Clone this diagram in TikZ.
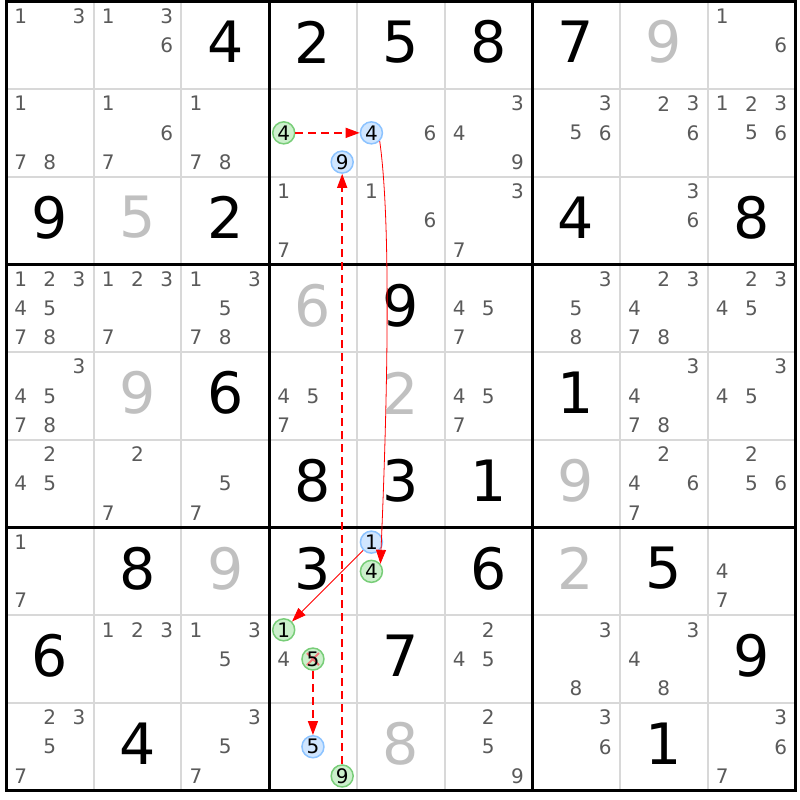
\documentclass[tikz,border=0pt]{standalone}
\usepackage{fontspec}
\setmainfont{DejaVu Sans}
\usetikzlibrary{arrows.meta}
\definecolor{candgray}{RGB}{90,90,90}
\definecolor{solvedgray}{RGB}{192,192,192}
\definecolor{cellline}{RGB}{216,216,216}
\definecolor{onfill}{RGB}{204,240,204}
\definecolor{ondraw}{RGB}{120,205,120}
\definecolor{offfill}{RGB}{208,230,255}
\definecolor{offdraw}{RGB}{140,195,255}
\definecolor{crossred}{RGB}{240,120,120}
\tikzset{
  given/.style={inner sep=0pt, yshift=3pt, font=\fontsize{57}{57}\selectfont},
  solved/.style={given, text=solvedgray},
  cand/.style={inner sep=0pt, text=candgray, font=\fontsize{20}{20}\selectfont},
  oncand/.style={circle, inner sep=0pt, minimum size=22pt, line width=1.5pt,
    draw=ondraw, fill=onfill, font=\fontsize{20}{20}\selectfont},
  offcand/.style={oncand, draw=offdraw, fill=offfill},
  elim/.style={oncand, path picture={
    \draw[crossred, line width=2pt]
      ([shift={(-6pt,-6pt)}]path picture bounding box.center) -- ([shift={(6pt,6pt)}]path picture bounding box.center)
      ([shift={(-6pt,6pt)}]path picture bounding box.center) -- ([shift={(6pt,-6pt)}]path picture bounding box.center);}},
  weaklink/.style={red, line width=1.5pt, dash pattern=on 8pt off 5pt,
    -{Triangle[length=14pt,width=10pt]}},
  stronglink/.style={red, line width=0.8pt, -{Triangle[length=14pt,width=10pt]}}
}
\newcommand\cands[3]{%
  \foreach \n in {#3}{%
    \pgfmathsetmacro\cx{#1+(mod(\n-1,3)+0.5)/3}%
    \pgfmathsetmacro\cy{#2+(floor((\n-1)/3)+0.5)/3}%
    \node[cand] (c#2#1\n) at (\cx,\cy) {\n};
  }%
}
\begin{document}
\begin{tikzpicture}[x=87.7pt, y=-87.7pt]
  \useasboundingbox ([shift={(-6pt,1.3pt)}]0,0) rectangle ++(800pt,-800pt);
  \foreach \i in {1,2,4,5,7,8} {
    \draw[cellline, line width=2pt] (\i,0) -- (\i,9);
    \draw[cellline, line width=2pt] (0,\i) -- (9,\i);
  }
  \foreach \i in {3,6} {
    \draw[line width=3pt] (\i,0) -- (\i,9);
    \draw[line width=3pt] (0,\i) -- (9,\i);
  }
  \draw[line width=3pt] (0,0) rectangle (9,9);

  \foreach \c/\r/\d in {2/0/4, 3/0/2, 4/0/5, 5/0/8, 6/0/7,
      0/2/9, 2/2/2, 6/2/4, 8/2/8, 4/3/9, 2/4/6, 6/4/1,
      3/5/8, 4/5/3, 5/5/1, 1/6/8, 3/6/3, 5/6/6, 7/6/5,
      0/7/6, 4/7/7, 8/7/9, 1/8/4, 7/8/1}
    \node[given] (g\r\c) at (\c+0.5,\r+0.5) {\d};
  \foreach \c/\r/\d in {7/0/9, 1/2/5, 3/3/6, 1/4/9, 4/4/2,
      6/5/9, 2/6/9, 6/6/2, 4/8/8}
    \node[solved] (g\r\c) at (\c+0.5,\r+0.5) {\d};

  \cands{0}{0}{1,3}
  \cands{1}{0}{1,3,6}
  \cands{8}{0}{1,6}
  \cands{0}{1}{1,7,8}
  \cands{1}{1}{1,6,7}
  \cands{2}{1}{1,7,8}
  \cands{4}{1}{6}
  \cands{5}{1}{3,4,9}
  \cands{6}{1}{3,5,6}
  \cands{7}{1}{2,3,6}
  \cands{8}{1}{1,2,3,5,6}
  \cands{3}{2}{1,7}
  \cands{4}{2}{1,6}
  \cands{5}{2}{3,7}
  \cands{7}{2}{3,6}
  \cands{0}{3}{1,2,3,4,5,7,8}
  \cands{1}{3}{1,2,3,7}
  \cands{2}{3}{1,3,5,7,8}
  \cands{5}{3}{4,5,7}
  \cands{6}{3}{3,5,8}
  \cands{7}{3}{2,3,4,7,8}
  \cands{8}{3}{2,3,4,5}
  \cands{0}{4}{3,4,5,7,8}
  \cands{3}{4}{4,5,7}
  \cands{5}{4}{4,5,7}
  \cands{7}{4}{3,4,7,8}
  \cands{8}{4}{3,4,5}
  \cands{0}{5}{2,4,5}
  \cands{1}{5}{2,7}
  \cands{2}{5}{5,7}
  \cands{7}{5}{2,4,6,7}
  \cands{8}{5}{2,5,6}
  \cands{0}{6}{1,7}
  \cands{8}{6}{4,7}
  \cands{1}{7}{1,2,3}
  \cands{2}{7}{1,3,5}
  \cands{3}{7}{4}
  \cands{5}{7}{2,4,5}
  \cands{6}{7}{3,8}
  \cands{7}{7}{3,4,8}
  \cands{0}{8}{2,3,5,7}
  \cands{2}{8}{3,5,7}
  \cands{5}{8}{2,5,9}
  \cands{6}{8}{3,6}
  \cands{8}{8}{3,6,7}

  \node[oncand] (on4) at (3.1667,1.5) {4};
  \node[offcand] (off4) at (4.1667,1.5) {4};
  \node[offcand] (off9) at (3.8333,1.8333) {9};
  \node[offcand] (off1) at (4.1667,6.1667) {1};
  \node[oncand] (on4b) at (4.1667,6.5) {4};
  \node[oncand] (on1) at (3.1667,7.1667) {1};
  \node[elim] (elim5) at (3.5,7.5) {5};
  \node[offcand] (off5) at (3.5,8.5) {5};
  \node[oncand] (on9) at (3.8333,8.8333) {9};

  \draw[weaklink] (on4) -- (off4);
  \draw[stronglink] (off4.-45) .. controls +(0.14,1.0) and +(0.07,-1.62) .. (on4b.40);
  \draw[stronglink] (off1) -- (on1);
  \draw[weaklink] (elim5) -- (off5);
  \draw[weaklink] (on9) -- (off9);
\end{tikzpicture}
\end{document}
